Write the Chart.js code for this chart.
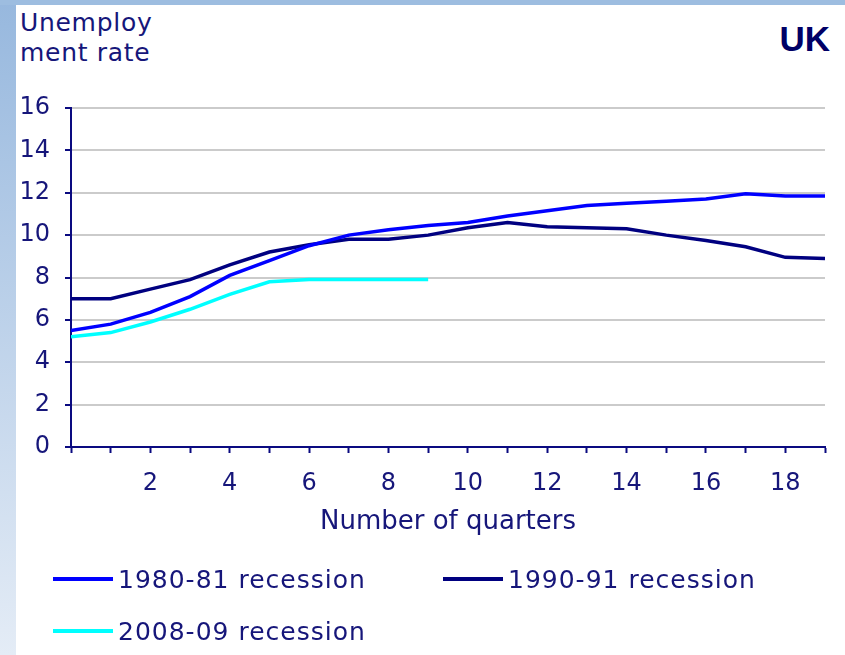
<!DOCTYPE html>
<html>
<head>
<meta charset="utf-8">
<title>UK unemployment rate in recessions</title>
<script src="https://cdn.jsdelivr.net/npm/chart.js@4.4.1/dist/chart.umd.min.js"></script>
<style>
  body { margin: 0; width: 845px; height: 655px; background: #fff; position: relative; overflow: hidden;
         font-family: "DejaVu Sans", Verdana, sans-serif; color: #16167a; }
  #sidebar { position: absolute; left: 0; top: 0; width: 16px; height: 655px; background: linear-gradient(#97b8de, #e4ecf6); }
  #topbar { position: absolute; left: 0; top: 0; width: 845px; height: 5px; background: #9dbde0; }
  #ytitle { position: absolute; left: 20px; top: 8px; font-size: 25px; line-height: 30px; letter-spacing: 0.7px; }
  #country { position: absolute; right: 15px; top: 19px; font: bold 35px "Liberation Sans", Arial, sans-serif; color: #000066; }
  #chartBox { position: absolute; left: 0; top: 0; }
  #legend { position: absolute; left: 53px; top: 562px; display: grid; grid-template-columns: 390px 320px; row-gap: 18px;
            font-size: 25px; letter-spacing: 1px; }
  .item { display: flex; align-items: center; height: 34px; }
  .swatch { width: 60px; height: 4px; margin-right: 5px; }
</style>
</head>
<body>
<div id="sidebar"></div>
<div id="topbar"></div>
<div id="ytitle">Unemploy<br>ment rate</div>
<div id="country">UK</div>
<canvas id="chartBox" width="845" height="655"></canvas>
<div id="legend"></div>

<script>
// --- DATA ---
const quarters = [0, 1, 2, 3, 4, 5, 6, 7, 8, 9, 10, 11, 12, 13, 14, 15, 16, 17, 18, 19];
const recession1980 = [5.5, 5.8, 6.35, 7.1, 8.1, 8.8, 9.5, 10.0, 10.25, 10.45, 10.6, 10.9, 11.15, 11.4, 11.5, 11.6, 11.7, 11.95, 11.85, 11.85];
const recession1990 = [7.0, 7.0, 7.45, 7.9, 8.6, 9.2, 9.55, 9.8, 9.8, 10.0, 10.35, 10.6, 10.4, 10.35, 10.3, 10.0, 9.75, 9.45, 8.95, 8.9];
const recession2008 = [5.2, 5.4, 5.9, 6.5, 7.2, 7.8, 7.9, 7.9, 7.9, 7.9];
const seriesNames = ["1980-81 recession", "1990-91 recession", "2008-09 recession"];
const xTickLabels = [2, 4, 6, 8, 10, 12, 14, 16, 18];
const yTickLabels = [0, 2, 4, 6, 8, 10, 12, 14, 16];
const xTitle = "Number of quarters";

const NAVY_TEXT = "#16167a";
const AXIS = "#0a0a80";

function toPoints(values) {
    return values.map((v, i) => ({ x: quarters[i], y: v }));
}

function lineSet(label, values, color) {
    return {
        label: label,
        data: toPoints(values),
        borderColor: color,
        backgroundColor: color,
        borderWidth: 3.5,
        pointRadius: 0,
        tension: 0,
        fill: false
    };
}

const ctx = document.getElementById("chartBox").getContext("2d");
const chart = new Chart(ctx, {
    type: "line",
    data: {
        datasets: [
            lineSet(seriesNames[0], recession1980, "#0000ff"),
            lineSet(seriesNames[1], recession1990, "#000080"),
            lineSet(seriesNames[2], recession2008, "#00ffff")
        ]
    },
    options: {
        responsive: false,
        animation: false,
        layout: { padding: { left: 0, top: 108, right: 20, bottom: 117 } },
        plugins: {
            legend: { display: false },
            tooltip: { enabled: false }
        },
        scales: {
            x: {
                type: "linear",
                min: 0,
                max: 19,
                afterFit: s => { s.height = 91; },
                border: { color: AXIS, width: 2 },
                grid: { drawOnChartArea: false, drawTicks: true, tickLength: 6, tickColor: AXIS, tickWidth: 2 },
                ticks: {
                    stepSize: 1,
                    autoSkip: false,
                    maxRotation: 0,
                    padding: 16,
                    color: NAVY_TEXT,
                    font: { family: "DejaVu Sans", size: 24 },
                    callback: v => xTickLabels.includes(v) ? String(v) : ""
                },
                title: {
                    display: true,
                    text: xTitle,
                    color: NAVY_TEXT,
                    font: { family: "DejaVu Sans", size: 26 },
                    padding: { top: 0, bottom: 0 }
                }
            },
            y: {
                min: 0,
                max: 16,
                afterFit: s => { s.width = 71; },
                afterBuildTicks: s => { s.ticks = yTickLabels.map(v => ({ value: v })); },
                border: { color: AXIS, width: 2 },
                grid: { color: "#cbcbcb", lineWidth: 2, tickLength: 6, tickColor: AXIS, tickWidth: 2 },
                ticks: {
                    padding: 15,
                    color: NAVY_TEXT,
                    font: { family: "DejaVu Sans", size: 24 }
                }
            }
        }
    }
});

// HTML legend built from the chart's datasets
const legendBox = document.getElementById("legend");
chart.data.datasets.forEach(ds => {
    const item = document.createElement("div");
    item.className = "item";
    const sw = document.createElement("span");
    sw.className = "swatch";
    sw.style.background = ds.borderColor;
    const txt = document.createElement("span");
    txt.textContent = ds.label;
    item.appendChild(sw);
    item.appendChild(txt);
    legendBox.appendChild(item);
});
</script>
</body>
</html>
